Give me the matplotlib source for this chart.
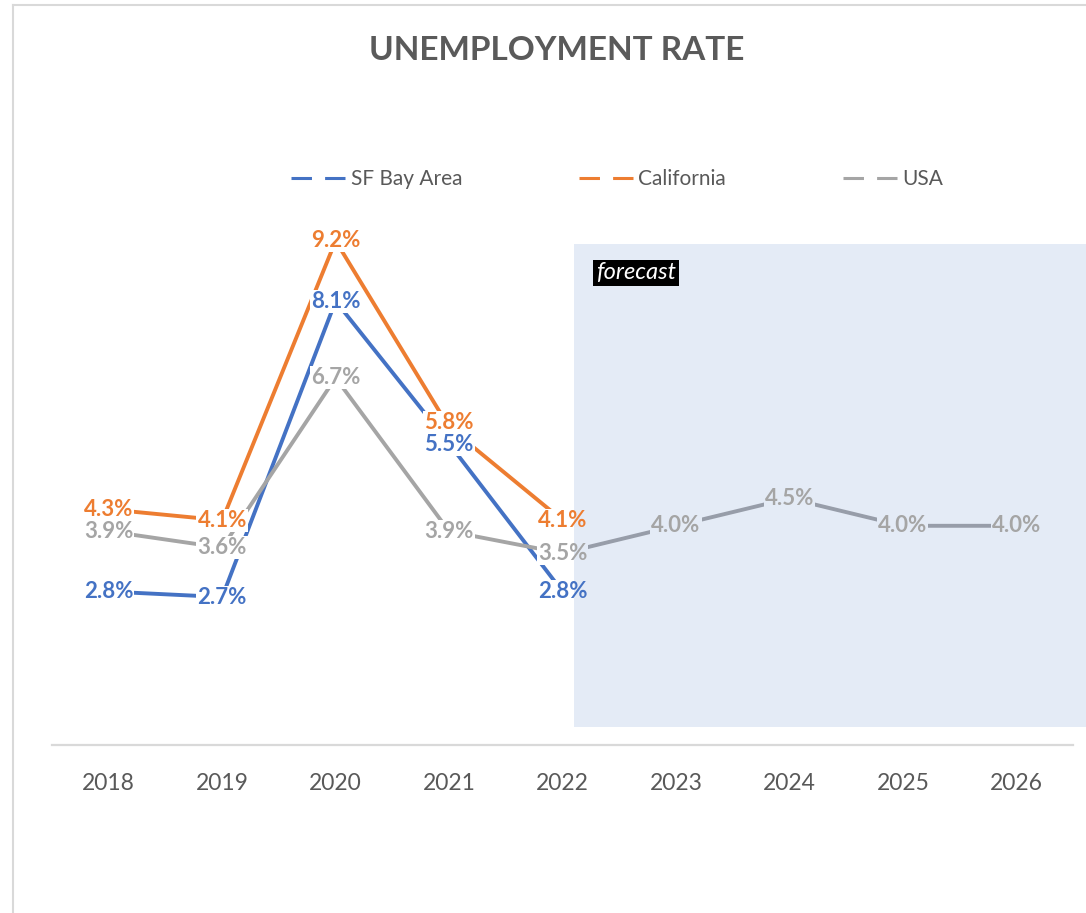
import numpy as np
import matplotlib
matplotlib.use("Agg")
import matplotlib.pyplot as plt
from matplotlib.patches import Rectangle
from matplotlib.lines import Line2D
from matplotlib.transforms import offset_copy

# ---- data ----
years = ["2018", "2019", "2020", "2021", "2022", "2023", "2024", "2025", "2026"]
sf_bay = [2.8, 2.7, 8.1, 5.5, 2.8]
california = [4.3, 4.1, 9.2, 5.8, 4.1]
usa = [3.9, 3.6, 6.7, 3.9, 3.5, 4.0, 4.5, 4.0, 4.0]
series_names = ["SF Bay Area", "California", "USA"]
series_colors = ["#4472C4", "#ED7D31", "#A5A5A5"]
title = "UNEMPLOYMENT RATE"
forecast_label = "forecast"

plt.rcParams['font.family'] = ['Lato', 'DejaVu Sans']

W, H = 1086, 913
fig = plt.figure(figsize=(W / 100, H / 100), dpi=100)
fig.patch.set_facecolor("white")

ax = fig.add_axes([52 / W, (H - 745) / H, (1073 - 52) / W, 548 / H])
ax.set_facecolor("none")
ax.set_xlim(-0.5, len(years) - 0.5)
ax.set_ylim(0, 10)

for s in ["top", "right", "left"]:
    ax.spines[s].set_visible(False)
ax.spines["bottom"].set_color("#D9D9D9")
ax.spines["bottom"].set_linewidth(1.6)
ax.set_yticks([])
ax.set_xticks(range(len(years)))
ax.set_xticklabels(years, fontsize=16.5, color="#595959")
ax.tick_params(axis="x", length=0, pad=20)

all_series = [sf_bay, california, usa]
labels = []
for si, (vals, name, col) in enumerate(zip(all_series, series_names, series_colors)):
    x = np.arange(len(vals))
    ax.plot(x, vals, color=col, lw=2.8, solid_capstyle="butt", zorder=2)
    for xi, v in zip(x, vals):
        dy = 0
        if si == 1 and xi == 3:
            dy = 3      # nudge crowded 2021 labels apart
        if si == 0 and xi == 3:
            dy = -1
        tr = offset_copy(ax.transData, fig=fig, x=0, y=dy, units="points")
        t = ax.text(xi, v, f"{v:.1f}%", ha="center", va="center", fontsize=16,
                    fontweight="bold", color=col, zorder=5, transform=tr)
        labels.append(t)

# white masks behind labels that hide the lines underneath
fig.canvas.draw()
renderer = fig.canvas.get_renderer()
inv = fig.transFigure.inverted()
for t in labels:
    bb = t.get_window_extent(renderer)
    (x0, y0), (x1, y1) = inv.transform([(bb.x0 - 1, bb.y0 - 1), (bb.x1 + 1, bb.y1 + 1)])
    ax.add_patch(Rectangle((x0, y0), x1 - x0, y1 - y0, transform=fig.transFigure,
                           facecolor="white", edgecolor="none", zorder=3, clip_on=False))

# forecast shading (translucent overlay)
shade = Rectangle((574 / W, (H - 727) / H), (W - 574) / W, (727 - 244) / H,
                  transform=fig.transFigure, facecolor="#4472C4", alpha=0.14,
                  edgecolor="none", zorder=4, clip_on=False)
ax.add_patch(shade)

ax.text(596 / W, 1 - 273 / H, forecast_label, transform=fig.transFigure,
        ha="left", va="center", fontsize=17, style="italic", color="white",
        zorder=6, bbox=dict(boxstyle="square,pad=0.12", fc="black", ec="none"))

# title
fig.text(557 / W, 1 - 50 / H, title, ha="center", va="center",
         fontsize=24, fontweight="bold", color="#5A5A5A")

# legend
handles = [Line2D([], [], color=c, lw=2.2, linestyle=(0, (6.7, 4.3)))
           for c in series_colors]
fig.legend(handles, series_names, loc="center", bbox_to_anchor=(617 / W, 1 - 179 / H),
           ncol=3, frameon=False, fontsize=15, labelcolor="#595959",
           handlelength=2.6, handletextpad=0.25, columnspacing=5.6)

# chart-area border (left and top)
fig.add_artist(Line2D([13 / W, 13 / W], [0, 1 - 5 / H], transform=fig.transFigure,
                      color="#D9D9D9", lw=1.5))
fig.add_artist(Line2D([13 / W, 1], [1 - 5 / H, 1 - 5 / H], transform=fig.transFigure,
                      color="#D9D9D9", lw=1.5))

fig.savefig("out.png", dpi=100)
